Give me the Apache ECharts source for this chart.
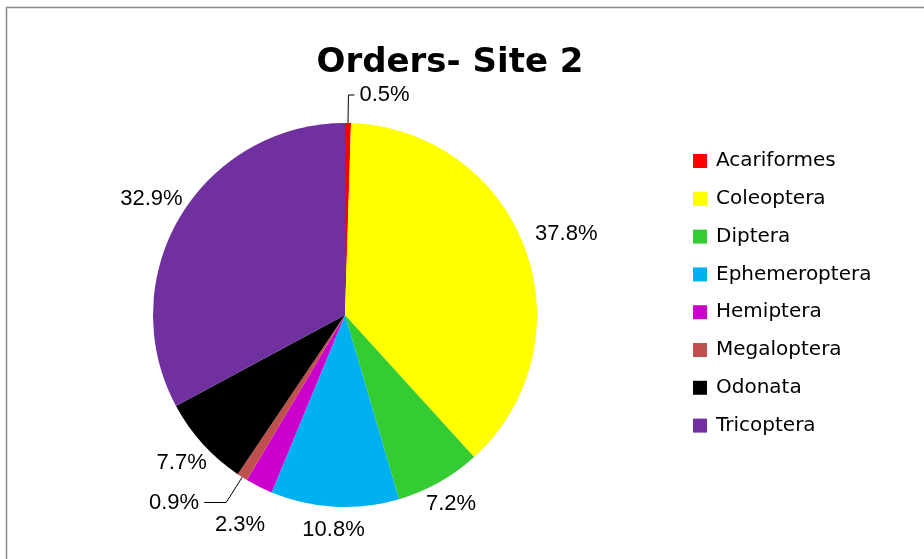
<!DOCTYPE html>
<html>
<head>
<meta charset="utf-8">
<title>Orders - Site 2</title>
<script src="https://cdn.jsdelivr.net/npm/echarts@6/dist/echarts.min.js"></script>
<style>
  html, body { margin: 0; padding: 0; background: #fff; }
  #main { width: 924px; height: 559px; }
</style>
</head>
<body>
<div id="main"></div>
<script>
  // orders found at site 2, share of total in percent
  var orders = ['Acariformes', 'Coleoptera', 'Diptera', 'Ephemeroptera', 'Hemiptera', 'Megaloptera', 'Odonata', 'Tricoptera'];
  var shares = [0.5, 37.8, 7.2, 10.8, 2.3, 0.9, 7.7, 32.9];
  var colors = ['#ff0000', '#ffff00', '#33cc33', '#00b0f0', '#cc00cc', '#c0504d', '#000000', '#7030a0'];

  var myChart = echarts.init(document.getElementById('main'));

  var center = [345, 315];
  var r = 192;

  // slices; only the tiny ones get a label with a leader line here
  var pieData = orders.map(function (name, i) {
    var item = { name: name, value: shares[i], itemStyle: { color: colors[i] } };
    if (shares[i] < 1) {
      item.label = { show: true };
      item.labelLine = i === 0 ? { show: true, length: 28, length2: 6 } : { show: true, length: 30, length2: 22 };
    } else {
      item.label = { show: false };
      item.labelLine = { show: false };
    }
    return item;
  });

  // invisible ring just outside the pie, used to put the other labels centred
  var ringData = orders.map(function (name, i) {
    return { name: name, value: shares[i], label: { show: shares[i] >= 1 } };
  });

  // push each label out so its box sits a fixed gap off the rim (like excel does)
  function rimLabel(p) {
    var w = p.labelRect.width, h = p.labelRect.height;
    var dx = p.labelRect.x + w / 2 - center[0];
    var dy = p.labelRect.y + h / 2 - center[1];
    var d = Math.sqrt(dx * dx + dy * dy);
    var ux = dx / d, uy = dy / d;
    var ext = Math.min(
      Math.abs(ux) > 1e-6 ? w / 2 / Math.abs(ux) : Infinity,
      Math.abs(uy) > 1e-6 ? h / 2 / Math.abs(uy) : Infinity
    );
    var gap = shares[p.dataIndex] < 3 ? 30 : 12;
    var dist = r + gap + ext;
    return { x: center[0] + ux * dist, y: center[1] + uy * dist, align: 'center', verticalAlign: 'middle' };
  }

  var option = {
    backgroundColor: '#fff',
    animation: false,
    title: {
      text: 'Orders- Site 2',
      left: 445,
      textAlign: 'center',
      top: 41,
      textStyle: { fontFamily: 'DejaVu Sans', fontWeight: 'bold', fontSize: 34, color: '#000' }
    },
    legend: {
      data: orders,
      orient: 'vertical',
      left: 688,
      top: 146,
      icon: 'rect',
      itemWidth: 14,
      itemHeight: 14,
      itemGap: 17.8,
      selectedMode: false,
      textStyle: { fontFamily: 'DejaVu Sans', fontSize: 20, color: '#000', padding: [0, 0, 0, 4] }
    },
    graphic: [{
      type: 'rect',
      shape: { x: 6.5, y: 7.5, width: 1000, height: 1000 },
      style: { fill: 'none', stroke: '#888', lineWidth: 1.5 },
      silent: true
    }],
    series: [
      {
        name: 'Orders',
        type: 'pie',
        center: center,
        radius: r,
        startAngle: 90,
        clockwise: true,
        avoidLabelOverlap: false,
        itemStyle: { borderWidth: 0 },
        label: {
          position: 'outside',
          formatter: '{c}%',
          fontFamily: 'Liberation Sans',
          fontSize: 22,
          color: '#000'
        },
        labelLine: { lineStyle: { color: '#000', width: 1 }, smooth: false },
        emphasis: { disabled: true },
        data: pieData
      },
      {
        name: 'labels',
        type: 'pie',
        center: center,
        radius: [r, 252],
        startAngle: 90,
        clockwise: true,
        silent: true,
        legendHoverLink: false,
        itemStyle: { color: 'rgba(0,0,0,0)', borderWidth: 0 },
        label: {
          position: 'inside',
          formatter: '{c}%',
          fontFamily: 'Liberation Sans',
          fontSize: 22,
          color: '#000'
        },
        labelLine: { show: false },
        labelLayout: rimLabel,
        emphasis: { disabled: true },
        data: ringData
      }
    ]
  };

  myChart.setOption(option);
</script>
</body>
</html>
